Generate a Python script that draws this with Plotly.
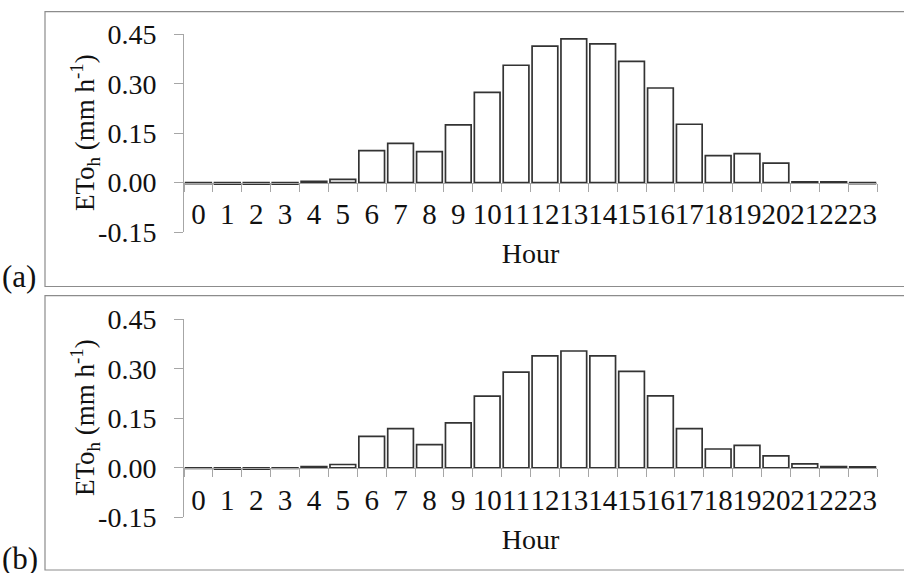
import plotly.graph_objects as go

hours = [str(h) for h in range(24)]
eto_a = [-0.003, -0.005, -0.005, -0.005, 0.004, 0.010, 0.097, 0.119, 0.094, 0.175,
         0.274, 0.356, 0.414, 0.436, 0.421, 0.368, 0.287, 0.177, 0.082, 0.088,
         0.059, 0.002, 0.002, -0.003]
eto_b = [-0.002, -0.004, -0.004, -0.002, 0.004, 0.010, 0.095, 0.119, 0.070, 0.136,
         0.217, 0.290, 0.339, 0.354, 0.339, 0.292, 0.218, 0.119, 0.057, 0.068,
         0.036, 0.012, 0.004, 0.003]
y_ticks = [-0.15, 0.0, 0.15, 0.30, 0.45]
y_ticktext = ["-0.15", "0.00", "0.15", "0.30", "0.45"]
panel_labels = ["(a)", "(b)"]
x_title = "Hour"
y_title = "ETo<sub>h</sub> (mm h<sup>-1</sup>)"

W, H = 904, 573
FONT = "Liberation Serif, Times New Roman, serif"
AX = "#a6a6a6"
TXT = "#111111"
FS = 28
yrange = [-0.15, 0.45]

def py(px):
    return 1 - px / H

xdom = [184 / W, 877 / W]
ydoms = [[py(232), py(34.3)], [py(517.3), py(319.3)]]
boxes = [(45, 11.7, 910, 286.5), (45, 295.7, 910, 570)]
label_y = [276, 558]
ytitle_y = [133, 418]

fig = go.Figure()
for i, vals in enumerate([eto_a, eto_b]):
    n = "" if i == 0 else str(i + 1)
    fig.add_trace(go.Bar(
        x=hours, y=vals, xaxis="x" + n, yaxis="y" + n,
        marker=dict(color="white", line=dict(color="#333333", width=1.7)),
        showlegend=False,
    ))
    d = ydoms[i]
    pos = d[0] + (0 - yrange[0]) / (yrange[1] - yrange[0]) * (d[1] - d[0])
    fig.layout["xaxis" + n] = dict(
        domain=xdom, anchor="free", position=pos, type="category",
        categoryorder="array", categoryarray=hours,
        tickmode="array", tickvals=hours, ticktext=hours, tickangle=0,
        tickson="boundaries", ticks="outside", ticklen=8, tickcolor=AX, tickwidth=1,
        ticklabelstandoff=6,
        showline=True, linecolor=AX, linewidth=1, showgrid=False, zeroline=False,
        tickfont=dict(family=FONT, size=29, color=TXT),
        title=dict(text=x_title, font=dict(family=FONT, size=FS, color=TXT), standoff=14),
        automargin=False, fixedrange=True,
    )
    fig.layout["yaxis" + n] = dict(
        domain=d, anchor="x" + n, range=yrange, tickmode="array",
        tickvals=y_ticks, ticktext=y_ticktext,
        ticks="outside", ticklen=9, tickcolor=AX, showline=True, linecolor=AX, linewidth=1,
        ticklabelstandoff=12,
        showgrid=False, zeroline=False,
        tickfont=dict(family=FONT, size=FS, color=TXT),
        automargin=False, fixedrange=True,
    )
    fig.add_annotation(text=y_title, xref="paper", yref="paper",
                       x=85 / W, y=py(ytitle_y[i]), xanchor="center", yanchor="middle",
                       textangle=-90, showarrow=False,
                       font=dict(family=FONT, size=FS - 1, color=TXT))
    x0, y0, x1, y1 = boxes[i]
    fig.add_shape(type="rect", xref="paper", yref="paper",
                  x0=x0 / W, x1=x1 / W, y0=py(y1), y1=py(y0),
                  line=dict(color="#8c8c8c", width=1.2), fillcolor="rgba(0,0,0,0)", layer="below")
    fig.add_annotation(text=panel_labels[i], xref="paper", yref="paper",
                       x=0, y=py(label_y[i]), xanchor="left", yanchor="middle",
                       showarrow=False, font=dict(family=FONT, size=31, color=TXT))

fig.update_layout(
    width=W, height=H, margin=dict(l=0, r=0, t=0, b=0),
    paper_bgcolor="white", plot_bgcolor="rgba(0,0,0,0)",
    bargap=0.11,
)
fig.write_html("out.html", config={"displayModeBar": False},
               post_script="document.body.style.margin='0';")
